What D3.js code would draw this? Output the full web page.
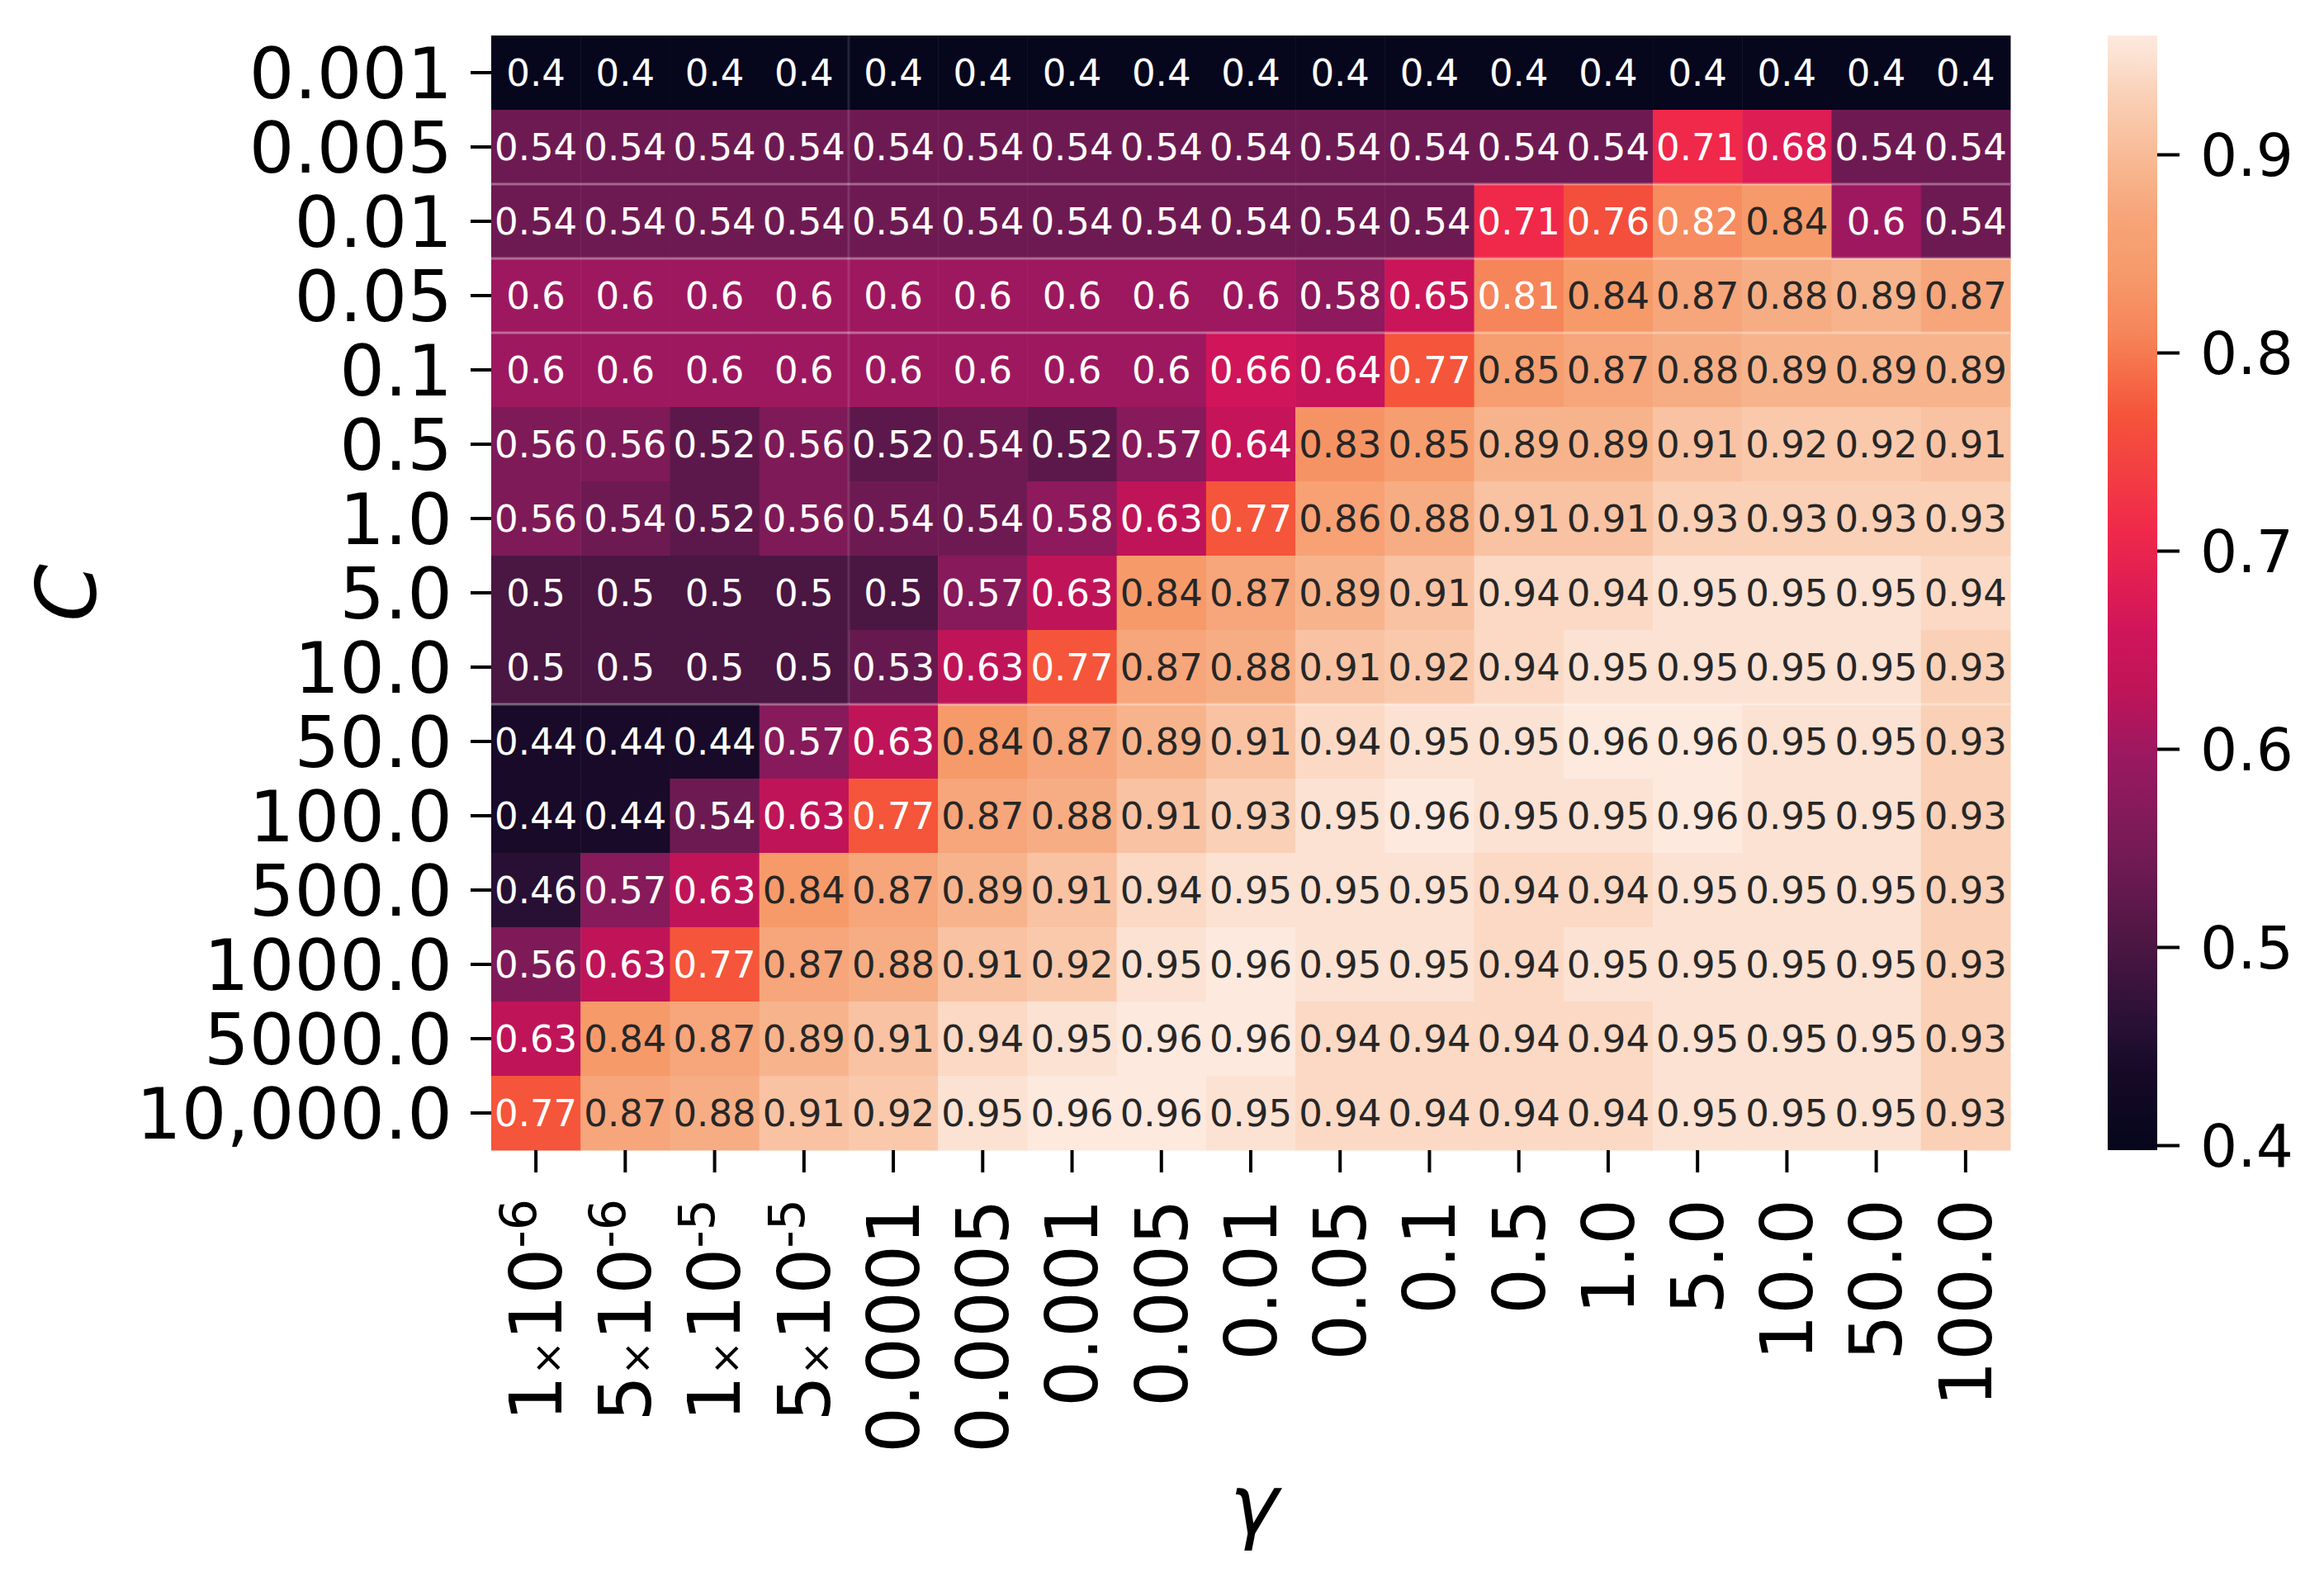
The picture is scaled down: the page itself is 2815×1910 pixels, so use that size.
<!DOCTYPE html>
<html>
<head>
<meta charset="utf-8">
<script src="https://cdn.jsdelivr.net/npm/d3@7"></script>
<style>
  html, body { margin: 0; padding: 0; background: #ffffff; }
  svg { display: block; }
  text { font-family: "DejaVu Sans", sans-serif; }
</style>
</head>
<body>
<svg id="chart" width="2815" height="1910"></svg>
<script>
// ---------------- data ----------------
const gammaLabels = ["1×10^-6", "5×10^-6", "1×10^-5", "5×10^-5", "0.0001", "0.0005", "0.001", "0.005",
  "0.01", "0.05", "0.1", "0.5", "1.0", "5.0", "10.0", "50.0", "100.0"];
const cLabels = ["0.001", "0.005", "0.01", "0.05", "0.1", "0.5", "1.0", "5.0", "10.0", "50.0",
  "100.0", "500.0", "1000.0", "5000.0", "10,000.0"];

const row_0_001 = [0.4, 0.4, 0.4, 0.4, 0.4, 0.4, 0.4, 0.4, 0.4, 0.4, 0.4, 0.4, 0.4, 0.4, 0.4, 0.4, 0.4];
const row_0_005 = [0.54, 0.54, 0.54, 0.54, 0.54, 0.54, 0.54, 0.54, 0.54, 0.54, 0.54, 0.54, 0.54, 0.71, 0.68, 0.54, 0.54];
const row_0_01  = [0.54, 0.54, 0.54, 0.54, 0.54, 0.54, 0.54, 0.54, 0.54, 0.54, 0.54, 0.71, 0.76, 0.82, 0.84, 0.6, 0.54];
const row_0_05  = [0.6, 0.6, 0.6, 0.6, 0.6, 0.6, 0.6, 0.6, 0.6, 0.58, 0.65, 0.81, 0.84, 0.87, 0.88, 0.89, 0.87];
const row_0_1   = [0.6, 0.6, 0.6, 0.6, 0.6, 0.6, 0.6, 0.6, 0.66, 0.64, 0.77, 0.85, 0.87, 0.88, 0.89, 0.89, 0.89];
const row_0_5   = [0.56, 0.56, 0.52, 0.56, 0.52, 0.54, 0.52, 0.57, 0.64, 0.83, 0.85, 0.89, 0.89, 0.91, 0.92, 0.92, 0.91];
const row_1     = [0.56, 0.54, 0.52, 0.56, 0.54, 0.54, 0.58, 0.63, 0.77, 0.86, 0.88, 0.91, 0.91, 0.93, 0.93, 0.93, 0.93];
const row_5     = [0.5, 0.5, 0.5, 0.5, 0.5, 0.57, 0.63, 0.84, 0.87, 0.89, 0.91, 0.94, 0.94, 0.95, 0.95, 0.95, 0.94];
const row_10    = [0.5, 0.5, 0.5, 0.5, 0.53, 0.63, 0.77, 0.87, 0.88, 0.91, 0.92, 0.94, 0.95, 0.95, 0.95, 0.95, 0.93];
const row_50    = [0.44, 0.44, 0.44, 0.57, 0.63, 0.84, 0.87, 0.89, 0.91, 0.94, 0.95, 0.95, 0.96, 0.96, 0.95, 0.95, 0.93];
const row_100   = [0.44, 0.44, 0.54, 0.63, 0.77, 0.87, 0.88, 0.91, 0.93, 0.95, 0.96, 0.95, 0.95, 0.96, 0.95, 0.95, 0.93];
const row_500   = [0.46, 0.57, 0.63, 0.84, 0.87, 0.89, 0.91, 0.94, 0.95, 0.95, 0.95, 0.94, 0.94, 0.95, 0.95, 0.95, 0.93];
const row_1000  = [0.56, 0.63, 0.77, 0.87, 0.88, 0.91, 0.92, 0.95, 0.96, 0.95, 0.95, 0.94, 0.95, 0.95, 0.95, 0.95, 0.93];
const row_5000  = [0.63, 0.84, 0.87, 0.89, 0.91, 0.94, 0.95, 0.96, 0.96, 0.94, 0.94, 0.94, 0.94, 0.95, 0.95, 0.95, 0.93];
const row_10000 = [0.77, 0.87, 0.88, 0.91, 0.92, 0.95, 0.96, 0.96, 0.95, 0.94, 0.94, 0.94, 0.94, 0.95, 0.95, 0.95, 0.93];

const rows = [row_0_001, row_0_005, row_0_01, row_0_05, row_0_1, row_0_5, row_1, row_5, row_10,
  row_50, row_100, row_500, row_1000, row_5000, row_10000];

const colorbarTicks = [0.4, 0.5, 0.6, 0.7, 0.8, 0.9];
const colorMin = 0.3975, colorMax = 0.96;

// "rocket"-like colormap, anchored to the colours seen in the reference
const cmapValues = [0.3975, 0.44, 0.46, 0.50, 0.54, 0.57, 0.60, 0.63, 0.66, 0.71, 0.77, 0.81, 0.84, 0.87, 0.89, 0.91, 0.93, 0.95, 0.96];
const cmapColors = ["#05061c", "#180a28", "#281035", "#4a1642", "#6e1a52", "#861a5a", "#9e1860", "#c01458", "#d0155a",
  "#f0284a", "#f5553a", "#f6855a", "#f69a6a", "#f7a57a", "#f7b48c", "#f9c2a2", "#fad0b6", "#fce2d3", "#fde9de"];

// ---------------- layout ----------------
const svg = d3.select("#chart");
const plotLeft = 595, plotRight = 2435, plotTop = 43, plotBottom = 1393;
const cbLeft = 2553, cbRight = 2613;

const x = d3.scaleBand().domain(gammaLabels).range([plotLeft, plotRight]);
const y = d3.scaleBand().domain(cLabels).range([plotTop, plotBottom]);

const color = d3.scaleLinear().domain(cmapValues).range(cmapColors)
  .interpolate(d3.interpolateRgb).clamp(true);

function relLum(c) {
  const rgb = d3.rgb(c);
  const f = v => { v /= 255; return v <= 0.03928 ? v / 12.92 : Math.pow((v + 0.055) / 1.055, 2.4); };
  return 0.2126 * f(rgb.r) + 0.7152 * f(rgb.g) + 0.0722 * f(rgb.b);
}

const cells = [];
rows.forEach((r, i) => r.forEach((v, j) => cells.push({ c: cLabels[i], g: gammaLabels[j], v })));

const fmt = d3.format(".2~g");

svg.append("g").selectAll("rect").data(cells).join("rect")
  .attr("x", d => x(d.g))
  .attr("y", d => y(d.c))
  .attr("width", x.bandwidth() + 0.5)
  .attr("height", y.bandwidth() + 0.5)
  .attr("fill", d => color(d.v));

// faint seams visible in the reference image
const seams = svg.append("g").attr("stroke", "rgba(255,255,255,0.35)").attr("stroke-width", 3);
["0.01", "0.05", "0.1", "50.0"].forEach(c => {
  seams.append("line").attr("x1", plotLeft).attr("x2", plotRight).attr("y1", y(c)).attr("y2", y(c));
});
seams.append("line").attr("x1", x("0.0001")).attr("x2", x("0.0001"))
  .attr("y1", plotTop).attr("y2", y("50.0")).attr("stroke", "rgba(255,255,255,0.12)");

svg.append("g").selectAll("text").data(cells).join("text")
  .attr("x", d => x(d.g) + x.bandwidth() / 2)
  .attr("y", d => y(d.c) + y.bandwidth() / 2)
  .attr("text-anchor", "middle")
  .attr("dy", "0.36em")
  .attr("font-size", 45)
  .attr("fill", d => relLum(color(d.v)) > 0.395 ? "#262626" : "#ffffff")
  .text(d => fmt(d.v));

// ---------------- axes ----------------
const yAxis = svg.append("g")
  .attr("transform", `translate(${plotLeft},0)`)
  .call(d3.axisLeft(y).tickSize(25).tickPadding(22));
yAxis.select(".domain").remove();
yAxis.selectAll(".tick line").attr("stroke", "#000").attr("stroke-width", 4);
yAxis.selectAll(".tick text").attr("font-size", 86).attr("fill", "#000")
  .attr("font-family", "DejaVu Sans").attr("dy", "0.36em");

const xAxis = svg.append("g")
  .attr("transform", `translate(0,${plotBottom})`)
  .call(d3.axisBottom(x).tickSize(27).tickPadding(0));
xAxis.select(".domain").remove();
xAxis.selectAll(".tick line").attr("stroke", "#000").attr("stroke-width", 4);
xAxis.selectAll(".tick text")
  .attr("font-size", 88).attr("fill", "#000").attr("font-family", "DejaVu Sans")
  .attr("transform", "rotate(-90)")
  .attr("text-anchor", "end")
  .attr("x", -59).attr("y", 0).attr("dy", "0.35em")
  .each(function (d) {
    const t = d3.select(this);
    if (d.indexOf("^") < 0) return;
    const [base, sup] = d.split("^");
    const [mant, ten] = base.split("×");
    t.text(null);
    t.append("tspan").text(mant);
    t.append("tspan").attr("font-size", 50).text("×");
    t.append("tspan").text(ten);
    t.append("tspan").attr("font-size", 60).attr("dy", -31).text(sup);
  });

// axis titles
svg.append("text")
  .attr("transform", `translate(116,${(plotTop + plotBottom) / 2}) rotate(-90)`)
  .attr("text-anchor", "middle")
  .attr("font-size", 100).attr("font-style", "italic")
  .text("C");
svg.append("text")
  .attr("x", (plotLeft + plotRight) / 2 + 4).attr("y", 1857)
  .attr("text-anchor", "middle")
  .attr("font-size", 100).attr("font-style", "italic")
  .text("γ");

// ---------------- colorbar ----------------
const defs = svg.append("defs");
const grad = defs.append("linearGradient").attr("id", "cbgrad")
  .attr("x1", 0).attr("y1", 1).attr("x2", 0).attr("y2", 0);
cmapValues.forEach((v, i) => {
  grad.append("stop").attr("offset", (v - colorMin) / (colorMax - colorMin)).attr("stop-color", cmapColors[i]);
});
const cb = d3.scaleLinear().domain([colorMin, colorMax]).range([plotBottom, plotTop]);
svg.append("rect")
  .attr("x", cbLeft).attr("y", cb(colorMax))
  .attr("width", cbRight - cbLeft).attr("height", cb(colorMin) - cb(colorMax))
  .attr("fill", "url(#cbgrad)");

const cbAxis = svg.append("g")
  .attr("transform", `translate(${cbRight},0)`)
  .call(d3.axisRight(cb).tickValues(colorbarTicks).tickFormat(d3.format(".1f")).tickSize(27).tickPadding(25));
cbAxis.select(".domain").remove();
cbAxis.selectAll(".tick line").attr("stroke", "#000").attr("stroke-width", 4);
cbAxis.selectAll(".tick text").attr("font-size", 71).attr("fill", "#000")
  .attr("font-family", "DejaVu Sans").attr("dy", "0.36em");
</script>
</body>
</html>
